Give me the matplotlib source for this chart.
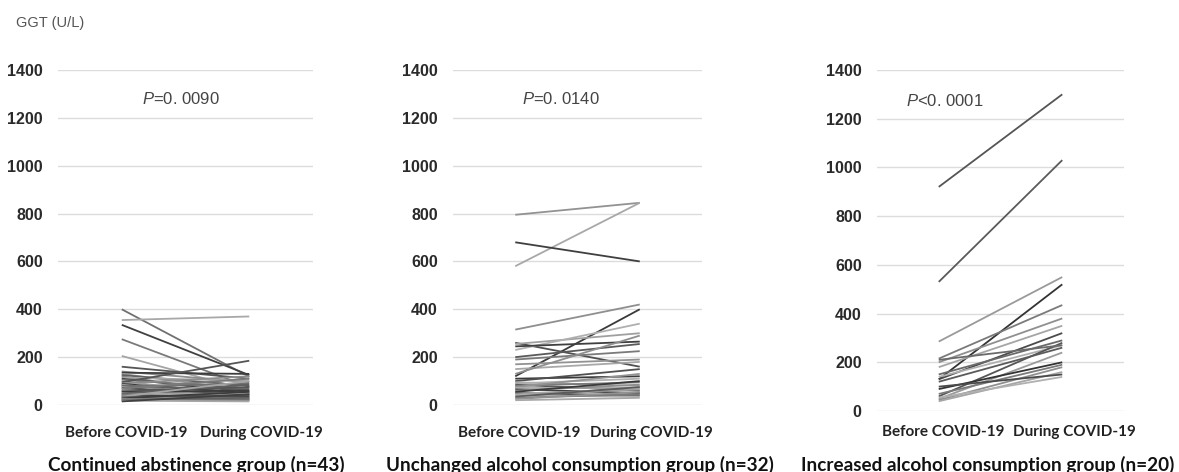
import matplotlib
matplotlib.use("Agg")
import matplotlib.pyplot as plt
from matplotlib import font_manager as fm

# ---------------- data ----------------
categories = ["Before COVID-19", "During COVID-19"]
y_ticks = [0, 200, 400, 600, 800, 1000, 1200, 1400]

abst_before = [400, 355, 335, 275, 205, 160, 140, 135, 130, 125, 120, 115, 110, 105,
               100, 95, 90, 88, 85, 80, 78, 75, 70, 68, 65, 60, 58, 55, 50, 48, 45,
               42, 40, 38, 35, 32, 30, 28, 25, 22, 20, 18, 15]
abst_during = [118, 370, 125, 75, 60, 110, 95, 130, 60, 80, 40, 100, 55, 70,
               35, 185, 120, 50, 30, 65, 90, 25, 45, 110, 20, 75, 40, 60, 30, 85, 25,
               50, 35, 20, 100, 40, 28, 55, 18, 30, 22, 15, 45]

unch_before = [795, 580, 680, 315, 120, 260, 255, 230, 200, 190, 170, 150, 245, 130,
               110, 100, 95, 90, 85, 80, 75, 70, 65, 60, 55, 50, 45, 40, 35, 30, 25, 20]
unch_during = [845, 845, 600, 420, 400, 160, 300, 340, 255, 225, 190, 180, 265, 290,
               120, 150, 80, 110, 60, 95, 130, 70, 50, 85, 100, 40, 65, 35, 75, 45, 55, 30]

incr_before = [920, 530, 285, 130, 215, 200, 180, 130, 150, 140, 60, 120, 50, 90,
               70, 45, 40, 100, 210, 55]
incr_during = [1300, 1030, 550, 520, 435, 380, 350, 320, 290, 270, 280, 260, 240, 200,
               190, 180, 160, 150, 270, 140]

p_labels = ["=0. 0090", "=0. 0140", "<0. 0001"]
group_titles = ["Continued abstinence group (n=43)",
                "Unchanged alcohol consumption group (n=32)",
                "Increased alcohol consumption group (n=20)"]
y_label = "GGT (U/L)"

# ---------------- style ----------------
avail = {f.name for f in fm.fontManager.ttflist}
narrow = "Liberation Sans Narrow" if "Liberation Sans Narrow" in avail else "Liberation Sans"
bold_font = "Lato" if "Lato" in avail else "DejaVu Sans"
plt.rcParams['mathtext.fontset'] = 'custom'
plt.rcParams['mathtext.it'] = narrow + ':italic'
plt.rcParams['mathtext.rm'] = narrow

panel_grays = [
    ['#707070', '#a8a8a8', '#404040', '#7a7a7a', '#a5a5a5', '#555555', '#8c8c8c', '#3c3c3c', '#9a9a9a', '#5f5f5f'],
    ['#929292', '#a8a8a8', '#3f3f3f', '#8f8f8f', '#3a3a3a', '#505050', '#a0a0a0', '#b0b0b0', '#5a5a5a', '#7a7a7a'],
    ['#555555', '#5a5a5a', '#9a9a9a', '#333333', '#7a7a7a', '#8f8f8f', '#a5a5a5', '#4a4a4a', '#6a6a6a', '#b0b0b0'],
]

W, H = 1179, 472
fig = plt.figure(figsize=(W / 100, H / 100), dpi=100)

# axes boxes in pixels: left, right, top(1400), bottom(0)
boxes = [(58, 313, 70, 405), (453, 702, 70, 405), (877, 1124, 70, 411)]
cat_y = [433, 433, 432]
cat_dx = [4, 12]
data = [(abst_before, abst_during), (unch_before, unch_during), (incr_before, incr_during)]
p_pos = [(181, 99), (561, 99), (945, 101)]
title_x = [196, 580, 988]

for i, ((l, r, t, b), (bef, dur)) in enumerate(zip(boxes, data)):
    ax = fig.add_axes([l / W, 1 - b / H, (r - l) / W, (b - t) / H])
    ax.set_xlim(-0.5, 1.5)
    ax.set_ylim(0, 1400)
    ax.set_yticks(y_ticks)
    ax.set_xticks([0, 1])
    ax.set_xticklabels(["", ""])
    ax.tick_params(axis='x', length=0)
    ax.tick_params(axis='y', length=0, pad=11, labelsize=11.5, labelcolor='#2a2a2a')
    for lab in ax.get_yticklabels():
        lab.set_fontfamily(narrow)
        lab.set_fontweight('bold')
    for s in ax.spines.values():
        s.set_visible(False)
    ax.grid(axis='y', color='#dcdcdc', linewidth=1.0)
    ax.set_axisbelow(True)
    cols = panel_grays[i]
    for k, (v0, v1) in enumerate(zip(bef, dur)):
        ax.plot([0, 1], [v0, v1], color=cols[k % len(cols)], linewidth=1.3,
                solid_capstyle='butt')
    for k, cat in enumerate(categories):
        ax.annotate(cat, xy=(k, 1 - cat_y[i] / H), xycoords=('data', 'figure fraction'),
                    xytext=(cat_dx[k], 0), textcoords='offset pixels',
                    ha='center', va='center', fontfamily=bold_font, fontweight='bold',
                    fontsize=11, color='#222222', annotation_clip=False)
    px, py = p_pos[i]
    fig.text(px / W, 1 - py / H, r"$\mathit{P}$" + p_labels[i], fontfamily=narrow,
             fontsize=12, color='#444444', ha='center', va='center')
    fig.text(title_x[i] / W, 1 - 465 / H, group_titles[i], fontfamily=bold_font,
             fontweight='bold', fontsize=13.6, color='#111111', ha='center', va='center')

fig.text(50 / W, 1 - 23 / H, y_label, fontfamily=narrow, fontsize=10.5,
         color='#555555', ha='center', va='center')

fig.savefig("out.png", dpi=100)
